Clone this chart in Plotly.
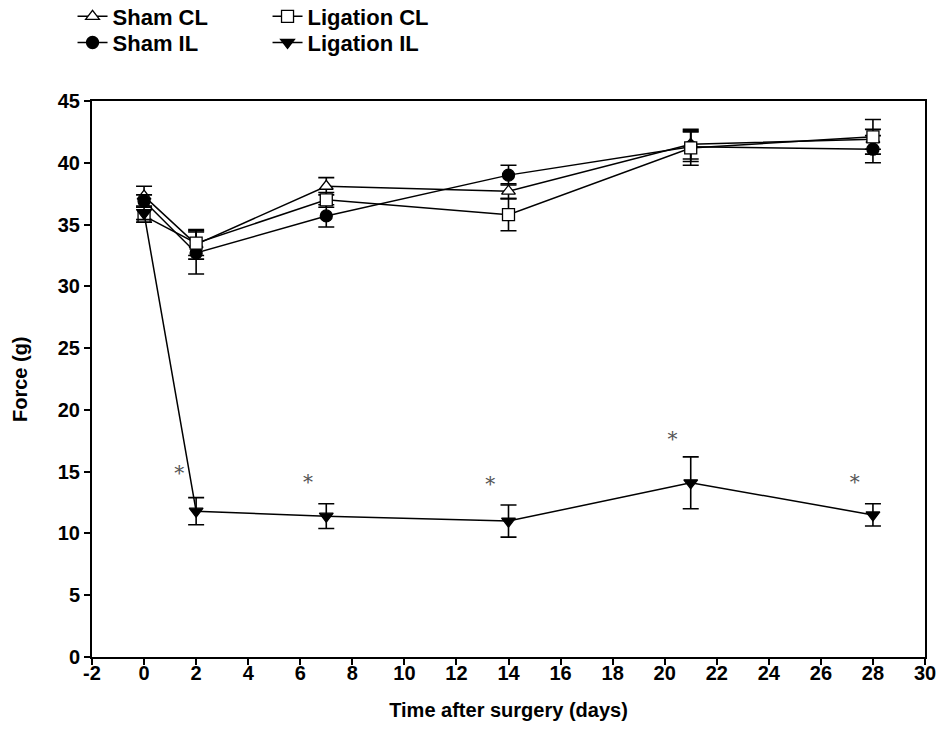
import plotly.graph_objects as go

days = [0, 2, 7, 14, 21, 28]

sham_cl = [37.3, 33.4, 38.1, 37.7, 41.5, 41.9]
sham_cl_err = [0.8, 1.2, 0.7, 0.6, 1.2, 0.8]

sham_il = [36.9, 32.7, 35.7, 39.0, 41.3, 41.1]
sham_il_err = [0.5, 1.7, 0.9, 0.8, 1.2, 1.1]

lig_cl = [35.7, 33.5, 37.0, 35.8, 41.2, 42.1]
lig_cl_err = [0.5, 1.0, 0.6, 1.3, 1.4, 1.4]

lig_il = [35.9, 11.8, 11.4, 11.0, 14.1, 11.5]
lig_il_err = [0.5, 1.1, 1.0, 1.3, 2.1, 0.9]

star_x = [1.35, 6.3, 13.3, 20.3, 27.3]
star_y = [14.7, 14.0, 13.8, 17.5, 14.0]

x_ticks = list(range(-2, 31, 2))
y_ticks = list(range(0, 46, 5))

FONT = "Liberation Sans, Arial, sans-serif"

def trace(name, y, err, symbol, fill, legend):
    return go.Scatter(
        x=days, y=y, name=name, mode="lines+markers",
        line=dict(color="black", width=1.5),
        marker=dict(symbol=symbol, size=12, color=fill,
                    line=dict(color="black", width=1.3)),
        error_y=dict(type="data", array=err, visible=True, color="black", thickness=1.6, width=8),
        legend=legend,
    )

fig = go.Figure()
fig.add_trace(trace("Sham CL", sham_cl, sham_cl_err, "triangle-up", "white", "legend"))
fig.add_trace(trace("Sham IL", sham_il, sham_il_err, "circle", "black", "legend2"))
fig.add_trace(trace("Ligation CL", lig_cl, lig_cl_err, "square", "white", "legend3"))
fig.add_trace(trace("Ligation IL", lig_il, lig_il_err, "triangle-down", "black", "legend4"))

fig.add_trace(go.Scatter(
    x=star_x, y=star_y, mode="text", text=["*"] * len(star_x),
    textfont=dict(family="DejaVu Serif, serif", size=20, color="#555555"),
    showlegend=False, hoverinfo="skip",
))

legend_common = dict(
    font=dict(family=FONT, size=22, color="black", weight="bold"),
    bgcolor="rgba(0,0,0,0)", xanchor="left", yanchor="middle",
    xref="container", yref="container",
    orientation="v", tracegroupgap=0, itemwidth=30,
)

fig.update_layout(
    width=942, height=749,
    margin=dict(l=92, r=17, t=101, b=92, autoexpand=False),
    paper_bgcolor="white", plot_bgcolor="white",
    font=dict(family=FONT, size=20, color="black"),
    legend=dict(x=0.077, y=0.978, **legend_common),
    legend2=dict(x=0.077, y=0.943, **legend_common),
    legend3=dict(x=0.284, y=0.978, **legend_common),
    legend4=dict(x=0.284, y=0.943, **legend_common),
    xaxis=dict(
        range=[-2, 30], tickvals=x_ticks, ticktext=["<b>%d</b>" % v for v in x_ticks],
        ticks="outside", ticklen=6, tickwidth=2, tickcolor="black",
        ticklabelstandoff=-9,
        showline=True, linewidth=2, linecolor="black", mirror=True,
        showgrid=False, zeroline=False,
        tickfont=dict(family=FONT, size=20),
        title=dict(text="<b>Time after surgery (days)</b>", font=dict(family=FONT, size=20), standoff=20),
    ),
    yaxis=dict(
        range=[0, 45], tickvals=y_ticks, ticktext=["<b>%d</b>" % v for v in y_ticks],
        ticks="outside", ticklen=6, tickwidth=2, tickcolor="black",
        showline=True, linewidth=2, linecolor="black", mirror=True,
        showgrid=False, zeroline=False,
        tickfont=dict(family=FONT, size=20),
    ),
    annotations=[dict(
        text="<b>Force (g)</b>", textangle=-90, showarrow=False,
        xref="paper", yref="paper", x=-0.0864, y=0.5,
        xanchor="center", yanchor="middle",
        font=dict(family=FONT, size=20, color="black"),
    )],
)

fig.write_html(
    "out.html",
    config={"displayModeBar": False},
    post_script="document.body.style.margin='0';document.body.style.overflow='hidden';",
)
